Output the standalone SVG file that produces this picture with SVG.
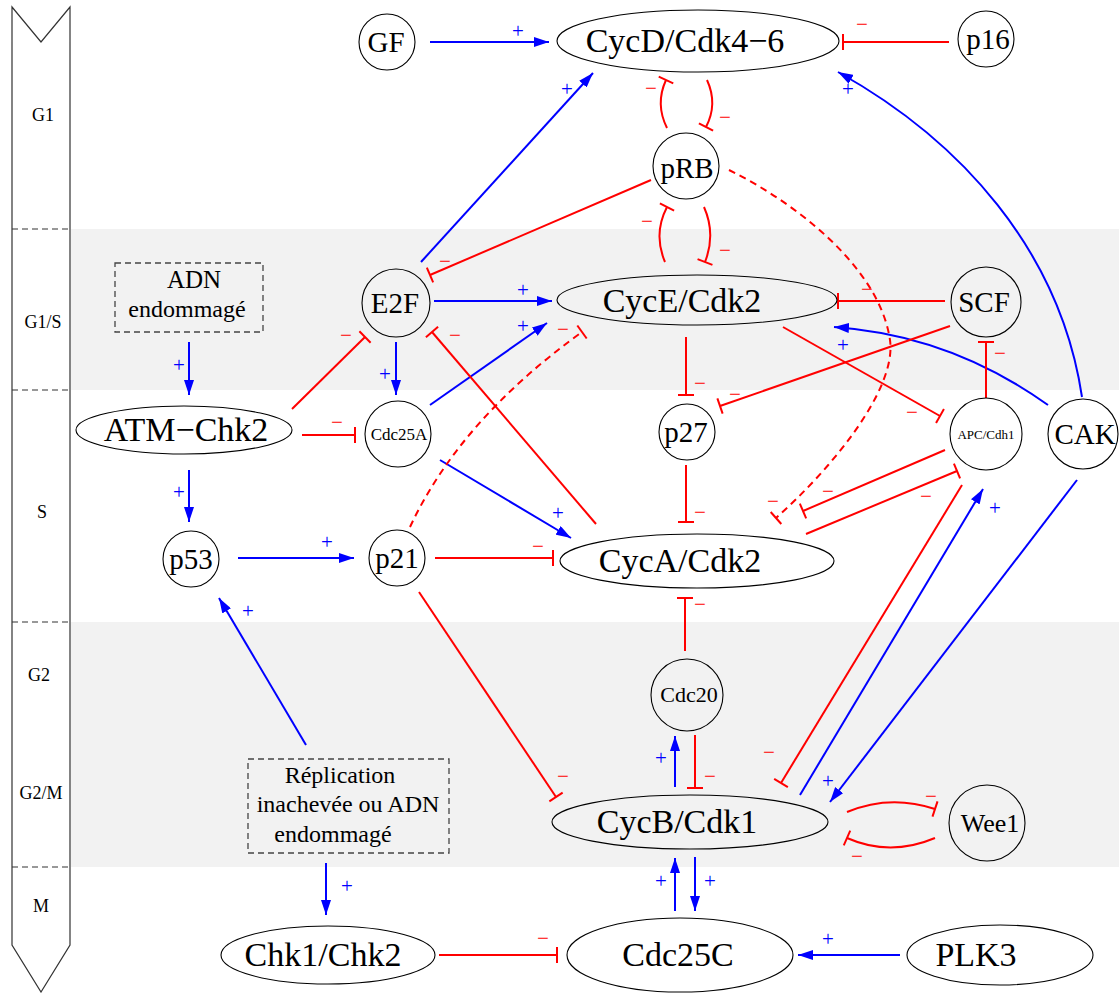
<svg xmlns="http://www.w3.org/2000/svg" width="1119" height="993" viewBox="0 0 1119 993">
<style>
.n{fill:none;stroke:#000;stroke-width:1.1}
.t{font-family:"Liberation Serif","Times New Roman",serif;text-anchor:middle;fill:#000}
.L{font-size:34px}
.M{font-size:29px}
.ph{font-size:18px}
.b{stroke:#0000ff;stroke-width:2;fill:none;marker-end:url(#arr)}
.r{stroke:#ff0000;stroke-width:2;fill:none;marker-end:url(#bar)}
.d{stroke-dasharray:7 5}
.s{font-family:"Liberation Serif","Times New Roman",serif;font-size:21px;text-anchor:middle}
.sp{fill:#0000ff}
.sm{fill:#ff0000}
.sep{stroke:#333;stroke-width:1.2;stroke-dasharray:6 4}
.box{fill:none;stroke:#444;stroke-width:1.3;stroke-dasharray:6 4}
</style>
<defs>
<marker id="arr" markerUnits="userSpaceOnUse" viewBox="-15 -5 15 10" refX="0" refY="0" markerWidth="15" markerHeight="10" orient="auto"><path d="M0,0 L-15,-5 L-15,5 z" fill="#0000ff"/></marker>
<marker id="bar" markerUnits="userSpaceOnUse" viewBox="-2 -9 4 18" refX="0" refY="0" markerWidth="4" markerHeight="18" orient="auto"><path d="M0,-8 L0,8" stroke="#ff0000" stroke-width="2"/></marker>
</defs>
<rect width="1119" height="993" fill="#fff"/>
<g id="bands">
<rect x="71" y="229" width="1048" height="161" fill="#f2f2f2"/>
<rect x="71" y="622" width="1048" height="245" fill="#f2f2f2"/>
</g>
<g id="phase-bar">
<polygon points="12,7 41,42 70,7 70,945 41,992 12,945" fill="#fff" stroke="#333" stroke-width="1.2"/>
<line class="sep" x1="12" y1="229" x2="70" y2="229"/>
<line class="sep" x1="12" y1="390" x2="70" y2="390"/>
<line class="sep" x1="12" y1="622" x2="70" y2="622"/>
<line class="sep" x1="12" y1="867" x2="70" y2="867"/>
<text class="t ph" x="43" y="121">G1</text>
<text class="t ph" x="43" y="328">G1/S</text>
<text class="t ph" x="42" y="518">S</text>
<text class="t ph" x="39" y="681">G2</text>
<text class="t ph" x="41" y="799">G2/M</text>
<text class="t ph" x="41" y="912">M</text>
</g>
<g id="connectors">
<line class="b" x1="430" y1="42" x2="549" y2="42"/>
<line class="r" x1="949" y1="42" x2="843" y2="42"/>
<line class="b" x1="421" y1="262" x2="593" y2="73"/>
<path class="r" d="M667 128 Q655 104 666 80"/>
<path class="r" d="M707 80 Q718 104 706 127"/>
<path class="r" d="M665 262 Q653 234 667 207"/>
<path class="r" d="M704 207 Q716 234 705 262"/>
<line class="r" x1="651" y1="180" x2="430" y2="275"/>
<path class="r d" d="M729 170 C800 205 880 270 890 340 C897 390 830 470 776 518"/>
<line class="b" x1="434" y1="301" x2="552" y2="301"/>
<line class="r" x1="945" y1="301" x2="838" y2="301"/>
<path class="b" d="M1048 405 Q950 335 834 327"/>
<path class="b" d="M1082 397 C1060 250 960 140 838 72"/>
<line class="r" x1="950" y1="326" x2="720" y2="406"/>
<line class="r" x1="986" y1="398" x2="986" y2="342"/>
<line class="r" x1="783" y1="327" x2="940" y2="416"/>
<line class="r" x1="686" y1="337" x2="686" y2="395"/>
<line class="b" x1="189" y1="342" x2="189" y2="395"/>
<line class="r" x1="292" y1="409" x2="365" y2="337"/>
<line class="r" x1="302" y1="435" x2="355" y2="435"/>
<line class="b" x1="396" y1="342" x2="396" y2="395"/>
<line class="b" x1="430" y1="405" x2="547" y2="323"/>
<line class="b" x1="440" y1="460" x2="571" y2="538"/>
<line class="r" x1="596" y1="524" x2="432" y2="332"/>
<path class="r d" d="M410 527 Q460 420 582 332"/>
<line class="b" x1="189" y1="470" x2="189" y2="522"/>
<line class="b" x1="238" y1="558" x2="354" y2="558"/>
<line class="r" x1="435" y1="558" x2="553" y2="558"/>
<line class="r" x1="686" y1="465" x2="686" y2="522"/>
<line class="r" x1="945" y1="450" x2="803" y2="511"/>
<line class="r" x1="806" y1="534" x2="957" y2="471"/>
<line class="r" x1="685" y1="651" x2="685" y2="598"/>
<line class="r" x1="419" y1="592" x2="556" y2="797"/>
<line class="b" x1="306" y1="745" x2="219" y2="598"/>
<line class="r" x1="962" y1="485" x2="781" y2="783"/>
<line class="b" x1="800" y1="795" x2="983" y2="489"/>
<line class="b" x1="1077" y1="480" x2="830" y2="802"/>
<line class="b" x1="675" y1="787" x2="675" y2="736"/>
<line class="r" x1="695" y1="735" x2="695" y2="788"/>
<path class="r" d="M847 812 Q890 794 935 809"/>
<path class="r" d="M935 838 Q890 857 847 838"/>
<line class="b" x1="326" y1="863" x2="326" y2="915"/>
<line class="r" x1="439" y1="955" x2="557" y2="955"/>
<line class="b" x1="675" y1="911" x2="675" y2="858"/>
<line class="b" x1="695" y1="857" x2="695" y2="911"/>
<line class="b" x1="900" y1="955" x2="798" y2="955"/>
<g id="signs">
<text class="s sp" x="518" y="38">+</text>
<text class="s sm" x="862" y="31">−</text>
<text class="s sp" x="567" y="96">+</text>
<text class="s sm" x="651" y="95">−</text>
<text class="s sm" x="725" y="124">−</text>
<text class="s sm" x="647" y="228">−</text>
<text class="s sm" x="725" y="257">−</text>
<text class="s sm" x="445" y="268">−</text>
<text class="s sm" x="773" y="508">−</text>
<text class="s sp" x="523" y="297">+</text>
<text class="s sm" x="867" y="296">−</text>
<text class="s sp" x="843" y="352">+</text>
<text class="s sm" x="1000" y="360">−</text>
<text class="s sm" x="912" y="419">−</text>
<text class="s sm" x="735" y="401">−</text>
<text class="s sm" x="700" y="390">−</text>
<text class="s sp" x="848" y="96">+</text>
<text class="s sm" x="828" y="498">−</text>
<text class="s sm" x="926" y="503">−</text>
<text class="s sm" x="769" y="759">−</text>
<text class="s sp" x="995" y="515">+</text>
<text class="s sp" x="828" y="788">+</text>
<text class="s sm" x="931" y="803">−</text>
<text class="s sm" x="857" y="863">−</text>
<text class="s sm" x="700" y="611">−</text>
<text class="s sp" x="661" y="765">+</text>
<text class="s sm" x="710" y="783">−</text>
<text class="s sp" x="661" y="888">+</text>
<text class="s sp" x="710" y="888">+</text>
<text class="s sp" x="828" y="946">+</text>
<text class="s sm" x="543" y="945">−</text>
<text class="s sp" x="347" y="893">+</text>
<text class="s sp" x="248" y="618">+</text>
<text class="s sp" x="179" y="499">+</text>
<text class="s sp" x="179" y="372">+</text>
<text class="s sm" x="346" y="342">−</text>
<text class="s sm" x="337" y="429">−</text>
<text class="s sp" x="385" y="381">+</text>
<text class="s sp" x="523" y="333">+</text>
<text class="s sp" x="558" y="520">+</text>
<text class="s sm" x="455" y="342">−</text>
<text class="s sm" x="563" y="336">−</text>
<text class="s sp" x="327" y="549">+</text>
<text class="s sm" x="538" y="553">−</text>
<text class="s sm" x="563" y="783">−</text>
<text class="s sm" x="700" y="519">−</text>
</g>
</g>
<g id="GF"><circle class="n" cx="387" cy="42" r="28"/><text class="t M" x="386" y="52">GF</text></g>
<g id="CycD"><ellipse class="n" cx="698" cy="41" rx="141" ry="31"/><text class="t L" x="685" y="52">CycD/Cdk4−6</text></g>
<g id="p16"><circle class="n" cx="986" cy="39" r="28"/><text class="t M" x="988" y="49">p16</text></g>
<g id="pRB"><circle class="n" cx="686" cy="166" r="33"/><text class="t M" x="687" y="178">pRB</text></g>
<g id="E2F"><circle class="n" cx="396" cy="303" r="34"/><text class="t M" x="395" y="313">E2F</text></g>
<g id="CycE"><ellipse class="n" cx="697" cy="300" rx="140" ry="25"/><text class="t L" x="682" y="312">CycE/Cdk2</text></g>
<g id="SCF"><circle class="n" cx="986" cy="302" r="35"/><text class="t M" x="984" y="312">SCF</text></g>
<g id="APC"><circle class="n" cx="986" cy="434" r="36"/><text class="t" style="font-size:13px" x="986" y="439">APC/Cdh1</text></g>
<g id="CAK"><circle class="n" cx="1083" cy="434" r="35"/><text class="t M" x="1085" y="444">CAK</text></g>
<g id="ADN"><rect class="box" x="115" y="263" width="148" height="69"/><text class="t" style="font-size:25px" x="194" y="288">ADN</text><text class="t" style="font-size:24px" x="187" y="317">endommagé</text></g>
<g id="ATM"><ellipse class="n" cx="184" cy="430" rx="108" ry="24"/><text class="t L" x="186" y="441">ATM−Chk2</text></g>
<g id="Cdc25A"><circle class="n" cx="398" cy="434" r="33"/><text class="t" style="font-size:17px" x="399" y="440">Cdc25A</text></g>
<g id="p27"><circle class="n" cx="687" cy="432" r="28"/><text class="t M" x="686" y="442">p27</text></g>
<g id="p53"><circle class="n" cx="191" cy="559" r="28"/><text class="t M" x="191" y="569">p53</text></g>
<g id="p21"><circle class="n" cx="397" cy="558" r="28"/><text class="t M" x="397" y="568">p21</text></g>
<g id="CycA"><ellipse class="n" cx="697" cy="561" rx="137" ry="27"/><text class="t L" x="680" y="572">CycA/Cdk2</text></g>
<g id="Cdc20"><circle class="n" cx="687" cy="695" r="36"/><text class="t" style="font-size:22px" x="689" y="702">Cdc20</text></g>
<g id="Replication"><rect class="box" x="248" y="759" width="201" height="94"/><text class="t" style="font-size:24px" x="340" y="783">Réplication</text><text class="t" style="font-size:24px" x="348" y="812">inachevée ou ADN</text><text class="t" style="font-size:24px" x="333" y="842">endommagé</text></g>
<g id="CycB"><ellipse class="n" cx="690" cy="822" rx="138" ry="27"/><text class="t L" x="677" y="833">CycB/Cdk1</text></g>
<g id="Wee1"><circle class="n" cx="987" cy="823" r="38"/><text class="t" style="font-size:26px" x="990" y="832">Wee1</text></g>
<g id="Chk1"><ellipse class="n" cx="328" cy="955" rx="107" ry="29"/><text class="t L" x="323" y="966">Chk1/Chk2</text></g>
<g id="Cdc25C"><ellipse class="n" cx="680" cy="955" rx="113" ry="37"/><text class="t L" x="678" y="966">Cdc25C</text></g>
<g id="PLK3"><ellipse class="n" cx="1000" cy="955" rx="93" ry="30"/><text class="t L" x="976" y="966">PLK3</text></g>
</svg>
